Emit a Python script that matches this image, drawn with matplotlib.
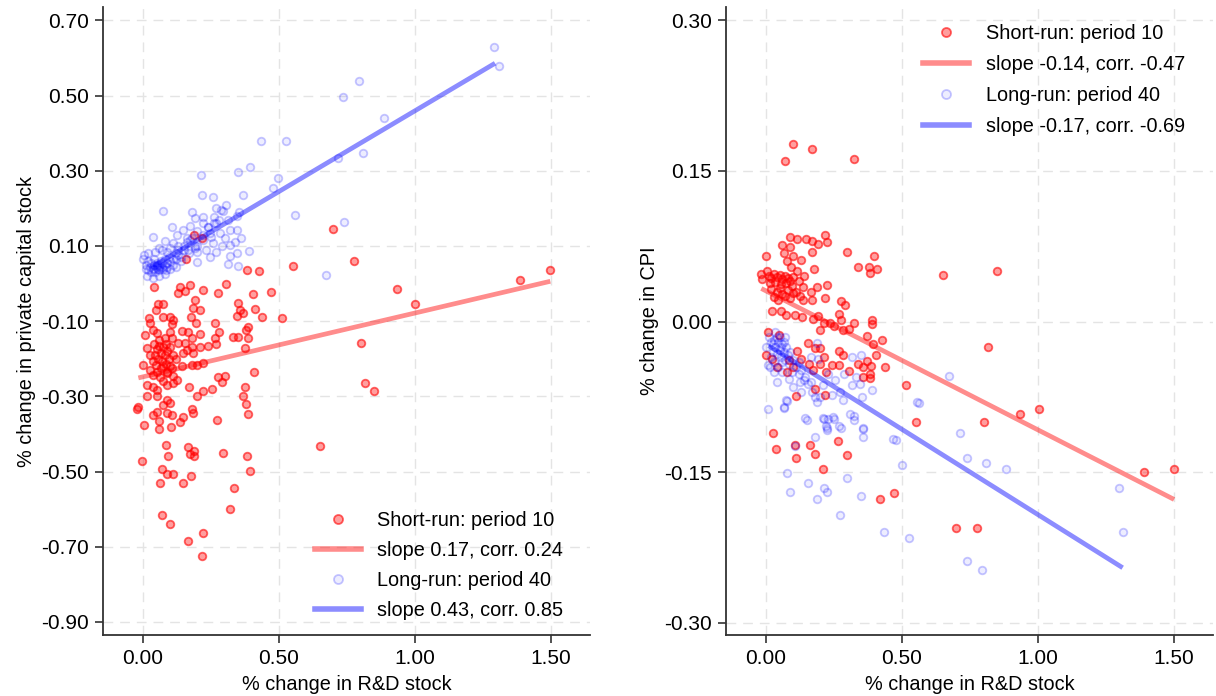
import numpy as np
import matplotlib
matplotlib.use("Agg")
import matplotlib.pyplot as plt
from matplotlib.lines import Line2D


plt.rcParams['font.family'] = ['Liberation Sans', 'DejaVu Sans']
plt.rcParams['font.size'] = 14.3

# ---- data (x = % change in R&D stock) ----
# left panel: % change in private capital stock
capital_short_run = np.array([
    (0.70, 0.145), (0.775, 0.06), (0.55, 0.047), (0.383, 0.036), (0.427, 0.034), (0.932, -0.015),
    (1.0, -0.055), (1.385, 0.01), (1.497, 0.036), (0.80, -0.158), (0.51, -0.092), (0.47, -0.022),
    (0.437, -0.089), (0.404, -0.028), (0.304, -0.001), (0.04, -0.009), (0.188, 0.13), (0.216, 0.12),
    (0.158, 0.065), (0.652, -0.432), (0.815, -0.264), (0.85, -0.285), (0.409, -0.235),
    (0.136, -0.009), (0.173, -0.004), (0.129, -0.025), (0.154, -0.02), (0.22, -0.017), (0.276, -0.025),
    (0.055, -0.054), (0.074, -0.054), (0.048, -0.07), (0.19, -0.044), (0.184, -0.065), (0.21, -0.07),
    (0.35, -0.052), (0.357, -0.07), (0.368, -0.078), (0.346, -0.086), (0.41, -0.068),
    (0.022, -0.092), (0.026, -0.105), (0.074, -0.089), (0.099, -0.089), (0.11, -0.097), (0.107, -0.108),
    (0.176, -0.089), (0.195, -0.105), (0.265, -0.105), (0.037, -0.124), (0.05, -0.131), (0.099, -0.129),
    (0.143, -0.126), (0.165, -0.129), (0.18, -0.145), (0.21, -0.135), (0.28, -0.129), (0.38, -0.124),
    (0.386, -0.115), (0.007, -0.137), (0.33, -0.142), (0.35, -0.142), (0.386, -0.145), (0.107, -0.145),
    (0.129, -0.158), (0.154, -0.158), (0.265, -0.145), (0.268, -0.16), (0.24, -0.166), (0.21, -0.168),
    (0.18, -0.17), (0.16, -0.176), (0.147, -0.185), (0.184, -0.185), (0.375, -0.171), (0.015, -0.171),
    (0.026, -0.19), (0.04, -0.16), (0.05, -0.175), (0.06, -0.165), (0.065, -0.185), (0.075, -0.17),
    (0.08, -0.19), (0.085, -0.16), (0.09, -0.18), (0.095, -0.2), (0.055, -0.2), (0.045, -0.19),
    (0.07, -0.205), (0.1, -0.17), (0.11, -0.19), (0.06, -0.15), (0.08, -0.145), (0.035, -0.205),
    (0.085, -0.215), (0.12, -0.2), (0.065, -0.225), (0.05, -0.235), (0.09, -0.235), (0.105, -0.225),
    (0.0, -0.216), (0.048, -0.216), (0.074, -0.22), (0.099, -0.22), (0.143, -0.22), (0.18, -0.216),
    (0.2, -0.216), (0.22, -0.211), (0.026, -0.23), (0.037, -0.243), (0.062, -0.248), (0.088, -0.237),
    (0.11, -0.245), (0.125, -0.256), (0.075, -0.258), (0.015, -0.27), (0.037, -0.275), (0.088, -0.27),
    (0.11, -0.265), (0.05, -0.283), (0.276, -0.248), (0.30, -0.246), (0.29, -0.262), (0.17, -0.275),
    (0.254, -0.28), (0.22, -0.287), (0.2, -0.30), (0.375, -0.275), (0.368, -0.30), (0.015, -0.30),
    (0.05, -0.30), (0.088, -0.31), (0.099, -0.317), (0.074, -0.322), (0.38, -0.32), (-0.022, -0.333),
    (-0.02, -0.328), (0.386, -0.347), (0.05, -0.341), (0.107, -0.349), (0.147, -0.354), (0.18, -0.333),
    (0.088, -0.345), (0.037, -0.35), (0.004, -0.376), (0.059, -0.365), (0.059, -0.386), (0.103, -0.381),
    (0.136, -0.368), (0.184, -0.344), (0.272, -0.362), (0.085, -0.429), (0.092, -0.458), (0.165, -0.434),
    (0.186, -0.445), (0.173, -0.453), (0.186, -0.458), (0.294, -0.45), (0.382, -0.46), (-0.004, -0.471),
    (0.393, -0.498), (0.07, -0.493), (0.088, -0.506), (0.11, -0.506), (0.062, -0.53), (0.147, -0.53),
    (0.176, -0.511), (0.335, -0.543), (0.32, -0.599), (0.07, -0.617), (0.099, -0.639), (0.22, -0.663),
    (0.165, -0.684), (0.217, -0.726),
])

capital_long_run = np.array([
    (1.29, 0.63), (1.31, 0.578), (0.794, 0.54), (0.736, 0.496), (0.884, 0.44), (0.81, 0.346),
    (0.715, 0.333), (0.432, 0.378), (0.525, 0.378), (0.35, 0.296), (0.392, 0.31), (0.214, 0.288),
    (0.498, 0.28), (0.477, 0.255), (0.366, 0.235), (0.218, 0.235), (0.258, 0.23), (0.56, 0.182),
    (0.075, 0.192), (0.74, 0.163), (0.672, 0.023), (0.314, 0.052), (0.348, 0.046), (0.389, 0.087),
    (0.27, 0.20), (0.294, 0.193), (0.22, 0.177), (0.19, 0.175), (0.26, 0.177), (0.107, 0.15),
    (0.22, 0.16), (0.173, 0.153), (0.353, 0.19), (0.345, 0.18), (0.313, 0.168), (0.32, 0.142),
    (0.345, 0.142), (0.283, 0.135), (0.246, 0.135), (0.147, 0.142), (0.125, 0.13), (0.037, 0.124),
    (0.08, 0.113), (0.11, 0.108), (0.173, 0.116), (0.22, 0.116), (0.258, 0.108), (0.32, 0.102),
    (0.34, 0.11), (0.345, 0.081), (0.32, 0.073), (0.246, 0.07), (0.2, 0.084), (0.27, 0.085),
    (0.2, 0.058), (0.14, 0.07), (0.11, 0.065), (0.285, 0.195), (0.24, 0.15), (0.2, 0.14),
    (0.16, 0.12), (0.13, 0.09), (0.15, 0.1), (0.19, 0.1), (0.23, 0.09), (0.29, 0.1), (0.3, 0.12),
    (0.36, 0.12), (0.27, 0.16), (0.305, 0.21), (0.18, 0.19), (0.165, 0.09), (0.12, 0.08),
    (0.09, 0.085), (0.06, 0.095), (0.0, 0.065), (0.01, 0.05), (0.01, 0.04), (0.02, 0.06),
    (0.02, 0.035), (0.025, 0.045), (0.03, 0.055), (0.03, 0.03), (0.035, 0.04), (0.04, 0.05),
    (0.04, 0.065), (0.045, 0.03), (0.05, 0.045), (0.05, 0.055), (0.055, 0.04), (0.06, 0.05),
    (0.06, 0.035), (0.065, 0.06), (0.07, 0.045), (0.07, 0.055), (0.075, 0.04), (0.08, 0.05),
    (0.08, 0.065), (0.085, 0.035), (0.09, 0.055), (0.09, 0.045), (0.095, 0.07), (0.10, 0.06),
    (0.10, 0.04), (0.11, 0.05), (0.12, 0.065), (0.12, 0.045), (0.13, 0.075), (0.14, 0.06),
    (0.015, 0.02), (0.035, 0.015), (0.06, 0.02), (0.08, 0.025), (0.005, 0.075), (0.02, 0.08),
    (0.045, 0.085), (0.07, 0.09), (0.1, 0.095), (0.13, 0.1), (0.15, 0.09), (0.16, 0.11),
    (0.18, 0.12), (0.2, 0.1), (0.22, 0.13), (0.24, 0.15), (0.26, 0.16), (0.28, 0.17),
    (0.17, 0.08), (0.19, 0.095), (0.25, 0.125), (0.04, 0.04), (0.05, 0.05), (0.06, 0.045),
])

# right panel: % change in CPI
cpi_short_run = np.array([
    (0.099, 0.177), (0.069, 0.16), (0.168, 0.172), (0.322, 0.162), (0.652, 0.046), (0.851, 0.05),
    (0.089, 0.084), (0.115, 0.082), (0.148, 0.082), (0.168, 0.08), (0.193, 0.077), (0.218, 0.086),
    (0.223, 0.079), (0.059, 0.076), (0.089, 0.074), (0.0, 0.065), (0.067, 0.068), (0.1, 0.065),
    (0.129, 0.061), (0.168, 0.069), (0.298, 0.069), (0.397, 0.065), (0.338, 0.054), (0.378, 0.054),
    (0.41, 0.052), (0.384, 0.048), (0.076, 0.06), (0.093, 0.054), (0.176, 0.052), (0.004, 0.05),
    (-0.02, 0.047), (-0.015, 0.042), (0.01, 0.045), (0.02, 0.043), (0.03, 0.047), (0.04, 0.044),
    (0.05, 0.046), (0.06, 0.042), (0.07, 0.045), (0.08, 0.043), (0.09, 0.04), (0.1, 0.044),
    (0.015, 0.038), (0.035, 0.039), (0.055, 0.037), (0.075, 0.038), (0.095, 0.035), (0.12, 0.04),
    (0.02, 0.032), (0.04, 0.03), (0.06, 0.028), (0.08, 0.031), (0.1, 0.029), (0.03, 0.025),
    (0.05, 0.033), (0.07, 0.026), (0.09, 0.024), (0.11, 0.03), (0.125, 0.026), (0.045, 0.022),
    (0.14, 0.045), (0.115, 0.05), (0.226, 0.036), (0.186, 0.034), (0.165, 0.03), (0.136, 0.034),
    (0.138, 0.022), (0.169, 0.022), (0.218, 0.024), (0.275, 0.021), (0.291, 0.017), (0.024, 0.011),
    (0.057, 0.011), (0.074, 0.007), (0.107, 0.007), (0.133, 0.005), (0.173, 0.003), (0.193, 0.006),
    (0.269, 0.008), (0.212, -0.001), (0.234, -0.001), (0.275, 0.002), (0.322, -0.001), (0.391, 0.002),
    (0.391, -0.002), (0.2, -0.008), (0.251, -0.004), (0.284, -0.008), (0.305, -0.007), (0.37, -0.014),
    (0.425, -0.018), (0.394, -0.022), (0.817, -0.025), (0.153, -0.021), (0.009, -0.01), (0.047, -0.013),
    (0.0, -0.0335), (0.023, -0.037), (0.04, -0.045), (0.076, -0.05), (0.1, -0.045), (0.115, -0.029),
    (0.179, -0.026), (0.2, -0.026), (0.086, -0.038), (0.129, -0.037), (0.158, -0.042), (0.198, -0.042),
    (0.215, -0.035), (0.172, -0.048), (0.222, -0.05), (0.244, -0.043), (0.269, -0.029), (0.284, -0.033),
    (0.269, -0.043), (0.304, -0.049), (0.338, -0.042), (0.355, -0.045), (0.372, -0.039), (0.387, -0.044),
    (0.384, -0.052), (0.358, -0.055), (0.384, -0.056), (0.405, -0.033), (0.438, -0.045), (0.179, -0.067),
    (0.218, -0.073), (0.11, -0.074), (0.513, -0.063), (0.552, -0.1), (0.802, -0.1), (0.934, -0.092),
    (1.004, -0.087), (0.027, -0.111), (0.036, -0.127), (0.106, -0.123), (0.112, -0.136), (0.162, -0.123),
    (0.181, -0.132), (0.266, -0.119), (0.297, -0.133), (0.211, -0.147), (0.418, -0.177), (0.471, -0.171),
    (0.7, -0.205), (0.777, -0.205), (1.39, -0.15), (1.5, -0.147),
])

cpi_long_run = np.array([
    (0.006, -0.087), (0.067, -0.086), (0.079, -0.079), (0.006, -0.043), (0.086, -0.057), (0.126, -0.06),
    (0.15, -0.098), (0.186, -0.08), (0.212, -0.097), (0.229, -0.097), (0.226, -0.106), (0.223, -0.108),
    (0.276, -0.106), (0.251, -0.097), (0.322, -0.094), (0.322, -0.098), (0.358, -0.107), (0.355, -0.115),
    (0.179, -0.115), (0.106, -0.124), (0.477, -0.118), (0.713, -0.111), (0.74, -0.136), (0.809, -0.141),
    (0.884, -0.147), (0.499, -0.143), (0.298, -0.156), (0.079, -0.151), (0.156, -0.161), (0.212, -0.166),
    (0.225, -0.17), (0.09, -0.17), (0.186, -0.177), (0.35, -0.174), (0.272, -0.193), (0.433, -0.209),
    (0.526, -0.215), (0.738, -0.238), (0.795, -0.247), (1.297, -0.166), (1.314, -0.209), (0.673, -0.054),
    (0.562, -0.081), (0.39, -0.068), (0.354, -0.075), (0.284, -0.078), (0.244, -0.073), (0.272, -0.07),
    (0.315, -0.063), (0.344, -0.062), (0.33, -0.055), (0.255, -0.058), (0.208, -0.063), (0.165, -0.06),
    (0.143, -0.055), (0.122, -0.052), (0.165, -0.035), (0.193, -0.037), (0.186, -0.021), (0.315, -0.035),
    (0.351, -0.033), (0.287, -0.052), (0.229, -0.052), (0.074, -0.078), (0.066, -0.085), (0.143, -0.096),
    (0.246, -0.095), (0.21, -0.096), (0.22, -0.104), (0.268, -0.104), (0.31, -0.092), (0.357, -0.106),
    (0.467, -0.117), (0.555, -0.08), (0.1, -0.065), (0.13, -0.07), (0.04, -0.06), (0.06, -0.05),
    (0.01, -0.015), (0.02, -0.02), (0.025, -0.03), (0.03, -0.018), (0.035, -0.025), (0.04, -0.032),
    (0.045, -0.02), (0.05, -0.028), (0.055, -0.035), (0.06, -0.022), (0.065, -0.03), (0.07, -0.038),
    (0.075, -0.025), (0.08, -0.033), (0.085, -0.042), (0.09, -0.03), (0.1, -0.038), (0.11, -0.045),
    (0.12, -0.04), (0.03, -0.04), (0.02, -0.035), (0.015, -0.045), (0.045, -0.045), (0.05, -0.015),
    (0.07, -0.015), (0.035, -0.01), (0.0, -0.025), (0.095, -0.05), (0.13, -0.048), (0.14, -0.058),
    (0.155, -0.062), (0.17, -0.07), (0.18, -0.075), (0.2, -0.075), (0.03, -0.05), (0.06, -0.04),
    (0.04, -0.015), (0.055, -0.025), (0.065, -0.02), (0.025, -0.022),
])

# fitted lines, end points
capital_fit_short_x = [-0.017, 1.497]
capital_fit_short_y = [-0.251, 0.006]
capital_fit_long_x = [0.03, 1.294]
capital_fit_long_y = [0.043, 0.586]
cpi_fit_short_x = [-0.017, 1.5]
cpi_fit_short_y = [0.033, -0.177]
cpi_fit_long_x = [0.01, 1.311]
cpi_fit_long_y = [-0.024, -0.245]

capital_labels = ['Short-run: period 10', 'slope 0.17, corr. 0.24',
                  'Long-run: period 40', 'slope 0.43, corr. 0.85']
cpi_labels = ['Short-run: period 10', 'slope -0.14, corr. -0.47',
              'Long-run: period 40', 'slope -0.17, corr. -0.69']

x_ticks = [0.0, 0.5, 1.0, 1.5]
capital_y_ticks = [0.70, 0.50, 0.30, 0.10, -0.10, -0.30, -0.50, -0.70, -0.90]
cpi_y_ticks = [0.30, 0.15, 0.00, -0.15, -0.30]


# styles
RED_FACE = (1, 0, 0, 0.38)
RED_EDGE = (1, 0, 0, 0.6)
BLUE_FACE = (0, 0, 1, 0.07)
BLUE_EDGE = (0, 0, 1, 0.22)
RED_LINE = (1, 0, 0, 0.45)
BLUE_LINE = (0, 0, 1, 0.45)


def draw_panel(ax, short, long, fs, fl, ylabel, yticks, ylim, labels, leg_anchor, leg_space):
    ax.scatter(short[:, 0], short[:, 1], s=30, facecolor=RED_FACE, edgecolor=RED_EDGE,
               linewidth=1.3, zorder=3)
    ax.plot(fs[0], fs[1], color=RED_LINE, lw=3.4, solid_capstyle='butt', zorder=4)
    ax.scatter(long[:, 0], long[:, 1], s=30, facecolor=BLUE_FACE, edgecolor=BLUE_EDGE,
               linewidth=1.3, zorder=3)
    ax.plot(fl[0], fl[1], color=BLUE_LINE, lw=3.4, solid_capstyle='butt', zorder=4)

    ax.set_xlim(-0.147, 1.643)
    ax.set_ylim(*ylim)
    ax.set_xticks(x_ticks)
    ax.set_yticks(yticks)
    ax.xaxis.set_major_formatter(matplotlib.ticker.FormatStrFormatter('%.2f'))
    ax.yaxis.set_major_formatter(matplotlib.ticker.FormatStrFormatter('%.2f'))
    ax.grid(True, color='#e4e4e4', linestyle=(0, (7, 5)), linewidth=1.0)
    ax.set_axisbelow(True)
    for side in ['top', 'right']:
        ax.spines[side].set_visible(False)
    for side in ['left', 'bottom']:
        ax.spines[side].set_color('#333333')
        ax.spines[side].set_linewidth(1.3)
    ax.tick_params(direction='out', length=6, width=1.2, color='#333333', labelsize=15, pad=4)
    ax.set_xlabel('% change in R&D stock', fontsize=14.3, labelpad=5)
    ax.set_ylabel(ylabel, fontsize=14.3, labelpad=4)

    handles = [
        Line2D([], [], ls='none', marker='o', ms=6.5, mfc=RED_FACE, mec=RED_EDGE, mew=1.3),
        Line2D([], [], color=RED_LINE, lw=4),
        Line2D([], [], ls='none', marker='o', ms=6.5, mfc=BLUE_FACE, mec=BLUE_EDGE, mew=1.3),
        Line2D([], [], color=BLUE_LINE, lw=4),
    ]
    ax.legend(handles, labels, loc='upper left', bbox_to_anchor=leg_anchor, frameon=False,
              borderpad=0, borderaxespad=0, handlelength=2.3, handletextpad=0.85,
              labelspacing=leg_space, fontsize=14.3)


fig = plt.figure(figsize=(12.16, 6.96), dpi=100)
ax1 = fig.add_axes([0.0847, 0.0876, 0.4005, 0.902])
ax2 = fig.add_axes([0.597, 0.0876, 0.4005, 0.902])

draw_panel(ax1, capital_short_run, capital_long_run,
           (capital_fit_short_x, capital_fit_short_y), (capital_fit_long_x, capital_fit_long_y),
           '% change in private capital stock', capital_y_ticks, (-0.935, 0.735),
           capital_labels, (0.435, 0.197), 0.55)
draw_panel(ax2, cpi_short_run, cpi_long_run,
           (cpi_fit_short_x, cpi_fit_short_y), (cpi_fit_long_x, cpi_fit_long_y),
           '% change in CPI', cpi_y_ticks, (-0.312, 0.313),
           cpi_labels, (0.4045, 0.973), 0.6)

fig.savefig('out.png', dpi=100)
